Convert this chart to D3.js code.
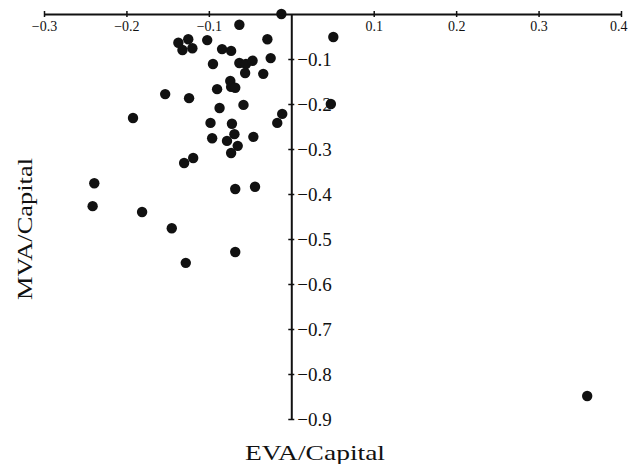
<!DOCTYPE html>
<html>
<head>
<meta charset="utf-8">
<script src="https://cdn.jsdelivr.net/npm/d3@7"></script>
<style>
  body { margin: 0; background: #fff; }
  svg { display: block; }
</style>
</head>
<body>
<div id="chart"></div>
<script>
// EVA/Capital vs MVA/Capital, one entry per company
const evaCapital = [
  -0.063, -0.137, -0.125, -0.132, -0.120, -0.102, -0.084, -0.073, -0.029, -0.025,
  -0.095, -0.063, -0.055, -0.047, -0.056, -0.034, -0.074, -0.073, -0.068, -0.090,
  -0.153, -0.124, -0.087, -0.058, -0.012, -0.011, -0.017, -0.098, -0.072, -0.069,
  -0.096, -0.046, -0.078, -0.065, -0.073, -0.130, -0.119, -0.068, -0.044, -0.239,
  -0.241, -0.181, -0.145, -0.128, -0.068, 0.051, 0.048, 0.359, -0.192
];
const mvaCapital = [
  -0.024, -0.064, -0.056, -0.080, -0.076, -0.058, -0.078, -0.082, -0.056, -0.098,
  -0.111, -0.109, -0.111, -0.104, -0.131, -0.133, -0.149, -0.162, -0.164, -0.167,
  -0.178, -0.187, -0.209, -0.202, 0.000, -0.222, -0.242, -0.242, -0.244, -0.267,
  -0.276, -0.273, -0.282, -0.293, -0.309, -0.331, -0.320, -0.389, -0.384, -0.376,
  -0.427, -0.440, -0.476, -0.553, -0.529, -0.051, -0.200, -0.849, -0.231
];
const xTicks = [-0.3, -0.2, -0.1, 0.1, 0.2, 0.3, 0.4];
const yTicks = [-0.1, -0.2, -0.3, -0.4, -0.5, -0.6, -0.7, -0.8, -0.9];

const W = 628, H = 464;
const serif = "'Liberation Serif', 'Times New Roman', serif";

const svg = d3.select("#chart")
  .append("svg")
  .attr("width", W)
  .attr("height", H);

const x = d3.scaleLinear().domain([-0.3, 0.4]).range([44, 621]);
const y = d3.scaleLinear().domain([0, -0.9]).range([14, 419]);
const fmt = d3.format(".1f");

// points first, axes drawn over them
svg.append("g")
  .selectAll("circle")
  .data(evaCapital.map((v, i) => [v, mvaCapital[i]]))
  .join("circle")
  .attr("cx", d => x(d[0]))
  .attr("cy", d => y(d[1]))
  .attr("r", 5.2)
  .attr("fill", "#111");

// X axis along the top (y = 0)
const xAxis = svg.append("g")
  .attr("transform", `translate(0,${y(0)})`)
  .call(d3.axisBottom(x).tickValues(xTicks).tickSize(3).tickSizeOuter(0)
    .tickPadding(4).tickFormat(fmt));
xAxis.select(".domain").attr("stroke", "#111").attr("stroke-width", 2);
xAxis.selectAll(".tick line").attr("y1", -3).attr("stroke", "#111").attr("stroke-width", 1.5);
xAxis.selectAll(".tick text")
  .attr("font-family", serif).attr("font-size", 14).attr("fill", "#111");
// last label sits against the right edge
xAxis.selectAll(".tick text")
  .filter(d => d === 0.4)
  .attr("text-anchor", "end")
  .attr("dx", 6);

// Y axis crossing at x = 0
const yAxis = svg.append("g")
  .attr("transform", `translate(${x(0)},0)`)
  .call(d3.axisRight(y).tickValues(yTicks).tickSize(3).tickSizeOuter(0)
    .tickPadding(3).tickFormat(fmt));
yAxis.select(".domain").attr("stroke", "#111").attr("stroke-width", 2);
yAxis.selectAll(".tick line").attr("x1", -3).attr("stroke", "#111").attr("stroke-width", 1.5);
yAxis.selectAll(".tick text")
  .attr("font-family", serif).attr("font-size", 19).attr("fill", "#111");

// axis titles
svg.append("text")
  .attr("x", 315)
  .attr("y", 460)
  .attr("text-anchor", "middle")
  .attr("font-family", serif)
  .attr("font-size", 22)
  .attr("textLength", 140)
  .attr("lengthAdjust", "spacingAndGlyphs")
  .attr("fill", "#111")
  .text("EVA/Capital");

svg.append("text")
  .attr("transform", "translate(32,229) rotate(-90)")
  .attr("text-anchor", "middle")
  .attr("font-family", serif)
  .attr("font-size", 22)
  .attr("textLength", 142)
  .attr("lengthAdjust", "spacingAndGlyphs")
  .attr("fill", "#111")
  .text("MVA/Capital");
</script>
</body>
</html>
